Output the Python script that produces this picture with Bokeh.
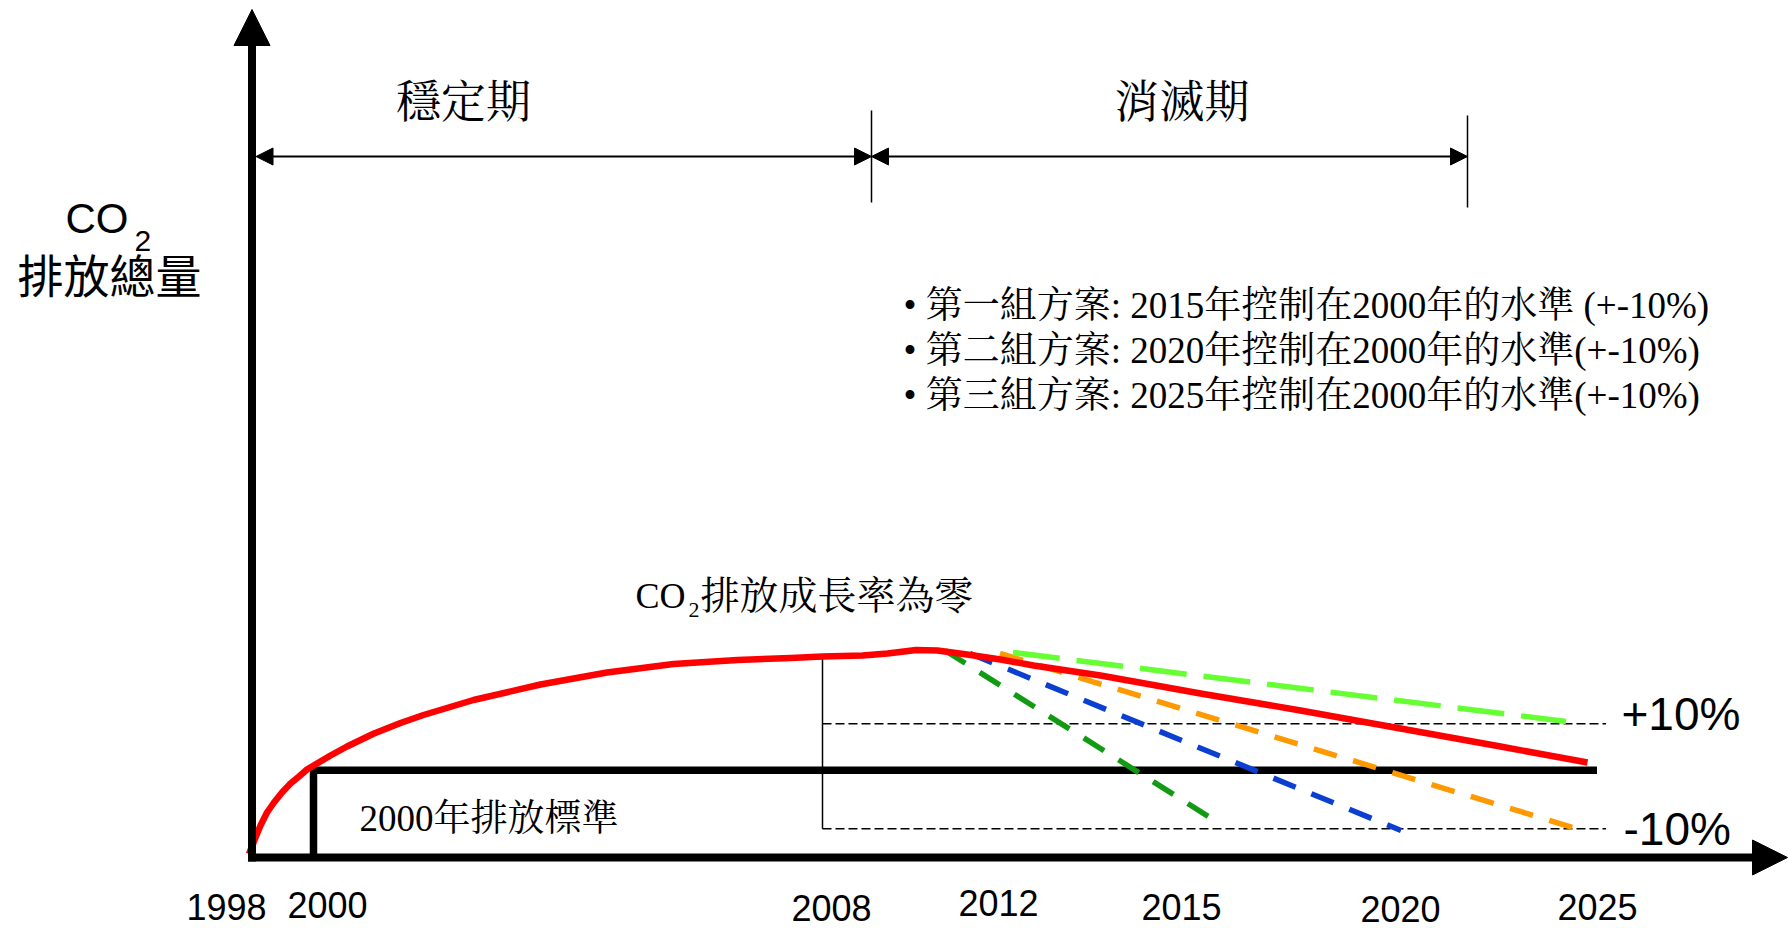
from bokeh.plotting import figure
from bokeh.models import Range1d, Arrow, NormalHead
from bokeh.core.properties import value
from bokeh.embed import file_html
from bokeh.resources import INLINE

# ---------------- data (schematic units: x = time axis, y = emission level) ----------------
# actual CO2 emission path (red curve)
red_x = [-0.3, 0.35, 0.85, 1.5, 2.2, 3.0, 3.85, 4.7, 5.5, 6.5,
         7.85, 9.5, 12.2, 14.85, 17.15, 22.15, 28.85, 35.5, 42.15, 48.55,
         53.9, 57.05, 61.05, 63.55, 66.4, 68.55, 71.5, 74.85, 78.15, 84.85,
         94.85, 104.85, 114.85, 124.85, 133.55]
red_y = [0.35, 2.0, 3.2, 4.5, 5.5, 6.5, 7.4, 8.1, 8.8, 9.4,
         10.2, 11.1, 12.4, 13.45, 14.25, 15.75, 17.3, 18.5, 19.35, 19.75,
         19.95, 20.1, 20.2, 20.4, 20.75, 20.7, 20.3, 19.8, 19.2, 18.2,
         16.4, 14.7, 12.9, 11.1, 9.5]

# reduction scenarios (dashed): start / end points
scen_names = ["2015", "2020", "2025", "upper"]
scen_x0 = [69.3, 71.8, 74.8, 76.1]
scen_y0 = [20.7, 20.4, 20.4, 20.5]
scen_x1 = [95.8, 114.9, 132.1, 131.4]
scen_y1 = [4.0, 2.7, 3.0, 13.6]

# key schematic positions / levels
t_2000 = 6.15          # year-2000 marker
t_2008 = 57.05         # start of zero-growth (2008)
t_phase_split = 61.95  # boundary 穩定期 / 消滅期
t_phase_end = 121.55   # end of 消滅期
t_level_end = 134.5    # end of the 2000 level line
t_band_end = 135.4     # end of the +-10% band lines
level_2000 = 8.73
level_plus10 = 13.37
level_minus10 = 2.87
level_2008 = 20.1

# x-axis tick labels
year_labels = ["1998", "2000", "2008", "2012", "2015", "2020", "2025"]
year_pos = [-2.55, 7.55, 57.95, 74.65, 92.95, 114.85, 134.55]
year_dy = [-4.95, -4.75, -5.0, -4.55, -4.95, -5.1, -4.95]

bullet_lines = [
    "• 第一組方案: 2015年控制在2000年的水準 (+-10%)",
    "• 第二組方案: 2020年控制在2000年的水準(+-10%)",
    "• 第三組方案: 2025年控制在2000年的水準(+-10%)",
]

# ---------------- styles ----------------
SANS = "Liberation Sans"
SERIF_MIX = "Liberation Serif, Noto Serif CJK TC, Noto Sans CJK TC"
CJK_SERIF = "Noto Serif CJK TC, Noto Sans CJK TC"
CJK_SANS = "Noto Sans CJK TC"
scen_colors = ["#129a12", "#0b3fd1", "#ff9900", "#66ff33"]
scen_dash = ["24 17", "24 17", "24 17", "47 17"]

p = figure(width=1789, height=928,
           x_range=Range1d(-25.15, 153.75), y_range=Range1d(-7.1, 85.7),
           output_backend="svg", toolbar_location=None,
           x_axis_location=None, y_axis_location=None, min_border=0)
p.grid.visible = False
p.outline_line_color = None
p.background_fill_color = "white"
p.border_fill_color = "white"

# +-10% band (thin dashed) and 2008 vertical marker
p.line([t_2008, t_band_end], [level_plus10, level_plus10], line_color="black",
       line_width=1.5, line_dash="9 4")
p.line([t_2008, t_band_end], [level_minus10, level_minus10], line_color="black",
       line_width=1.5, line_dash="9 4")
p.line([t_2008, t_2008], [level_2008, level_minus10], line_color="black", line_width=1.5)

# 2000 emission standard
p.line([t_2000, t_2000, t_level_end], [0, level_2000, level_2000],
       line_color="black", line_width=7.5, line_join="miter")

# scenarios
for x0, y0, x1, y1, c, d in zip(scen_x0, scen_y0, scen_x1, scen_y1, scen_colors, scen_dash):
    p.line([x0, x1], [y0, y1], line_color=c, line_width=5.5, line_dash=d)

# emission path
p.line(red_x, red_y, line_color="#ff0000", line_width=6.5, line_join="round")

# main axes as arrows
p.add_layout(Arrow(end=NormalHead(size=36, fill_color="black", line_color="black"),
                   x_start=0, y_start=-0.4, x_end=0, y_end=84.8,
                   line_width=8, line_color="black"))
p.add_layout(Arrow(end=NormalHead(size=35, fill_color="black", line_color="black"),
                   x_start=-0.4, y_start=0, x_end=153.55, y_end=0,
                   line_width=8, line_color="black"))

# phase arrows
phase_y = 70.1
for xa, xb in [(0.4, t_phase_split), (t_phase_split, t_phase_end)]:
    p.add_layout(Arrow(start=NormalHead(size=17, fill_color="black", line_color="black"),
                       end=NormalHead(size=17, fill_color="black", line_color="black"),
                       x_start=xa, y_start=phase_y, x_end=xb, y_end=phase_y,
                       line_width=2, line_color="black"))
p.segment(x0=[t_phase_split, t_phase_end], y0=[74.7, 74.2],
          x1=[t_phase_split, t_phase_end], y1=[65.5, 65.0],
          line_color="black", line_width=1.5)

# phase labels
p.text(x=[21.15, 93.0], y=[75.95, 75.95], text=["穩定期", "消滅期"],
       text_font=value(CJK_SERIF), text_font_size="45px",
       text_align="center", text_baseline="middle", text_color="black")

# y-axis title
p.text(x=[-18.65], y=[63.9], text=["CO"], text_font=value(SANS), text_font_size="42px",
       text_align="left", text_baseline="middle", text_color="black")
p.text(x=[-11.75], y=[61.65], text=["2"], text_font=value(SANS), text_font_size="30px",
       text_align="left", text_baseline="middle", text_color="black")
p.text(x=[-14.25], y=[58.5], text=["排放總量"], text_font=value(CJK_SANS),
       text_font_size="46px", text_align="center", text_baseline="middle", text_color="black")

# scenario description
p.text(x=[65.15] * 3, y=[55.23, 50.73, 46.23], text=bullet_lines,
       text_font=value(SERIF_MIX), text_font_size="37px",
       text_align="left", text_baseline="middle", text_color="black")

# zero growth label
p.text(x=[38.35], y=[26.2], text=["CO"], text_font=value("Liberation Serif"),
       text_font_size="36px", text_align="left", text_baseline="middle", text_color="black")
p.text(x=[43.65], y=[24.75], text=["2"], text_font=value("Liberation Serif"),
       text_font_size="22px", text_align="left", text_baseline="middle", text_color="black")
p.text(x=[44.85], y=[26.6], text=["排放成長率為零"], text_font=value(CJK_SERIF),
       text_font_size="39px", text_align="left", text_baseline="middle", text_color="black")

# 2000 standard label
p.text(x=[10.75], y=[3.9], text=["2000年排放標準"], text_font=value(SERIF_MIX),
       text_font_size="37px", text_align="left", text_baseline="middle", text_color="black")

# +-10% labels
p.text(x=[136.95, 137.15], y=[14.35, 2.85], text=["+10%", "-10%"], text_font=value(SANS),
       text_font_size="46px", text_align="left", text_baseline="middle", text_color="black")

# year labels
p.text(x=year_pos, y=year_dy, text=year_labels, text_font=value(SANS),
       text_font_size="36px", text_align="center", text_baseline="middle", text_color="black")

open("out.html", "w").write(file_html(p, INLINE))
